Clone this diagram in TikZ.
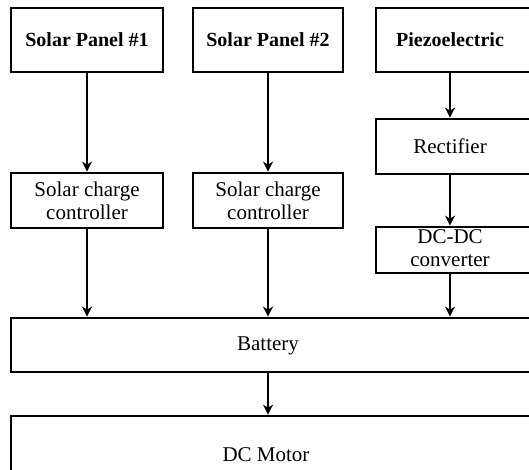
\documentclass[tikz,border=0pt]{standalone}
\usepackage{fontspec}
\setmainfont{Liberation Serif}
\usetikzlibrary{arrows.meta}
\begin{document}
\begin{tikzpicture}[x=1bp,y=-1bp,
  box/.style={draw, line width=2.7bp, inner sep=0pt, align=center,
    font=\fontsize{21bp}{23bp}\selectfont},
  lbl/.style={inner sep=0pt, align=center, font=\fontsize{21bp}{23bp}\selectfont},
  arr/.style={line width=2.7bp, -{Stealth[length=10bp,width=10bp,inset=3bp]}}]
\useasboundingbox (0,0) rectangle (529,470);
\clip (0,0) rectangle (529,470);
% top row
\node[box, minimum width=152bp, minimum height=64bp, font=\fontsize{20bp}{23bp}\selectfont\bfseries] (sp1) at (87,40) {Solar Panel \#1};
\node[box, minimum width=150bp, minimum height=64bp, font=\fontsize{20bp}{23bp}\selectfont\bfseries] (sp2) at (268,40) {Solar Panel \#2};
\node[box, minimum width=169bp, minimum height=64bp] (pz) at (460.5,40) {};
\node[lbl, font=\fontsize{20bp}{23bp}\selectfont\bfseries] (pzt) at (450,40) {Piezoelectric};
% second row
\node[box, minimum width=152bp, minimum height=55bp] (cc1) at (87,200.5) {Solar charge\\controller};
\node[box, minimum width=150bp, minimum height=55bp] (cc2) at (268,200.5) {Solar charge\\controller};
\node[box, minimum width=169bp, minimum height=55bp] (rect) at (460.5,146.5) {};
\node[lbl] (rectt) at (450,146.5) {Rectifier};
\node[box, minimum width=169bp, minimum height=46bp] (dcdc) at (460.5,250) {};
\node[lbl] (dcdct) at (450,248) {DC-DC\\converter};
% bottom
\node[box, minimum width=534bp, minimum height=54bp] (batt) at (278,345) {};
\node[lbl] (battt) at (268,346) {Battery};
\node[box, minimum width=534bp, minimum height=78bp] (motor) at (278,455) {};
\node[lbl] (motort) at (266,455) {DC Motor};
% arrows
\draw[arr] (sp1) -- (cc1);
\draw[arr] (sp2) -- (cc2);
\draw[arr] (pz.south -| pzt) -- (rect.north -| pzt);
\draw[arr] (rect.south -| pzt) -- (dcdc.north -| pzt);
\draw[arr] (dcdc.south -| pzt) -- (batt.north -| pzt);
\draw[arr] (cc1.south) -- (batt.north -| cc1);
\draw[arr] (cc2.south) -- (batt.north -| cc2);
\draw[arr] (batt.south -| cc2) -- (motor.north -| cc2);
\end{tikzpicture}
\end{document}
